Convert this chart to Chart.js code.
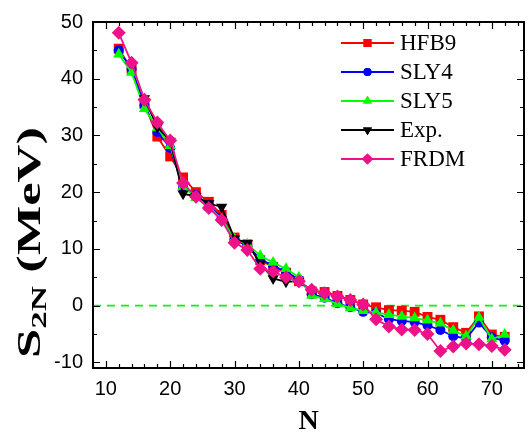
<!DOCTYPE html>
<html><head><meta charset="utf-8">
<script src="https://cdn.jsdelivr.net/npm/chart.js@4"></script>
<style>html,body{margin:0;padding:0;background:#fff;}canvas{display:block;}</style>
</head><body>
<canvas id="c" width="531" height="433"></canvas>
<script>
const neutronN = [12,14,16,18,20,22,24,26,28,30,32,34,36,38,40,42,44,46,48,50,52,54,56,58,60,62,64,66,68,70,72];
const hfb9 = [45.3,41.7,35.6,29.8,26.3,22.6,20.0,18.3,16.0,12.0,10.8,8.0,6.8,5.8,4.3,2.5,2.4,1.7,1.0,0.2,-0.3,-0.8,-0.9,-1.1,-2.0,-2.5,-3.8,-4.8,-1.9,-5.1,-5.5];
const sly4 = [45.0,41.7,35.3,30.6,27.8,20.8,19.5,17.8,15.5,11.6,10.5,8.2,7.0,6.0,4.6,2.0,1.4,0.4,-0.3,-1.1,-1.3,-2.4,-2.7,-2.9,-3.5,-4.3,-5.4,-5.8,-3.0,-5.6,-6.2];
const sly5 = [44.3,41.1,34.7,31.3,28.2,21.0,19.0,17.3,15.3,11.8,10.8,8.8,7.6,6.5,5.0,1.8,1.2,0.3,-0.4,-0.9,-1.2,-1.6,-1.9,-2.2,-2.6,-3.1,-4.4,-5.4,-2.1,-5.9,-5.1];
const expData = [null,null,36.5,31.5,29.0,19.7,19.3,18.0,17.4,11.8,11.0,7.4,4.8,4.2,4.3,null,null,null,null,null,null,null,null,null,null,null,null,null,null,null,null];
const frdm = [48.1,42.8,36.3,32.3,29.1,21.6,19.2,17.2,15.1,11.1,9.8,6.5,6.0,5.0,4.3,2.8,2.2,1.6,1.0,0.2,-2.4,-3.7,-4.2,-4.3,-5.0,-8.0,-7.2,-6.7,-6.8,-7.1,-7.8];
const xTicks = [10,20,30,40,50,60,70];
const yTicks = [-10,0,10,20,30,40,50];
const xRange = [8,75];
const yRange = [-11,50];
const zeroLevel = 0;

const pts = arr => neutronN.map((n,i)=>({x:n,y:arr[i]}));

const series = [
  {label:'HFB9', data:hfb9, color:'#ff0000', style:'rect', r:7, rot:0, order:5},
  {label:'SLY4', data:sly4, color:'#0000ff', style:'circle', r:5, rot:0, order:4},
  {label:'SLY5', data:sly5, color:'#00ff00', style:'triangle', r:6.5, rot:0, order:3},
  {label:'Exp.', data:expData, color:'#000000', style:'triangle', r:6.5, rot:180, order:2},
  {label:'FRDM', data:frdm, color:'#ee1289', style:'rectRot', r:7, rot:0, order:1}
];

const datasets = series.map(s=>({
  label:s.label, data:pts(s.data), borderColor:s.color, backgroundColor:s.color,
  borderWidth:1.8, pointStyle:s.style, pointRadius:s.r, pointRotation:s.rot,
  pointBorderWidth:0, pointBackgroundColor:s.color, order:s.order, tension:0, spanGaps:false
}));
datasets.push({label:'zero', data:xRange.map(x=>({x:x,y:zeroLevel})), borderColor:'#11ee11',
  borderWidth:1.8, borderDash:[8,6], pointRadius:0, order:6});

const frame = {
  id:'frame',
  afterDatasetsDraw(chart){
    const {ctx, chartArea:a, scales:{x,y}} = chart;
    ctx.save();
    ctx.strokeStyle='#000'; ctx.lineWidth=1.2;
    ctx.beginPath();
    for(let v=xRange[0]; v<=xRange[1]; v+=2){
      const px=Math.round(x.getPixelForValue(v))+0.5;
      const L = (v%10===0)?7:4;
      ctx.moveTo(px,a.bottom); ctx.lineTo(px,a.bottom-L);
      ctx.moveTo(px,a.top); ctx.lineTo(px,a.top+L);
    }
    for(let v=-10; v<=yRange[1]; v+=5){
      const py=Math.round(y.getPixelForValue(v))+0.5;
      const L = (v%10===0)?7:4;
      ctx.moveTo(a.left,py); ctx.lineTo(a.left+L,py);
      ctx.moveTo(a.right,py); ctx.lineTo(a.right-L,py);
    }
    ctx.stroke();
    ctx.lineWidth=2;
    ctx.strokeRect(a.left,a.top,a.right-a.left,a.bottom-a.top);
    // legend
    const lx0=341, lx1=394, tx=400, y0=43, dy=29;
    series.forEach((s,i)=>{
      const yy=y0+i*dy;
      ctx.strokeStyle=s.color; ctx.lineWidth=1.8;
      ctx.beginPath(); ctx.moveTo(lx0,yy); ctx.lineTo(lx1,yy); ctx.stroke();
      ctx.fillStyle=s.color;
      Chart.helpers.drawPoint(ctx,{pointStyle:s.style,radius:s.r*0.8,rotation:s.rot,borderWidth:0},(lx0+lx1)/2,yy);
      ctx.fill();
      ctx.fillStyle='#000'; ctx.font='23px "Liberation Serif"'; ctx.textBaseline='middle'; ctx.textAlign='left';
      ctx.fillText(s.label,tx,yy+1);
    });
    // y title
    ctx.save();
    ctx.fillStyle='#000'; ctx.textBaseline='alphabetic'; ctx.textAlign='left';
    const big='bold 33px "Liberation Serif"', small='bold 22px "Liberation Serif"';
    ctx.font=big; const wS=ctx.measureText('S').width, wM=ctx.measureText(' (MeV)').width;
    ctx.font=small; const w2=ctx.measureText('2N').width;
    const total=wS+w2+wM, sx=231/total;
    ctx.translate(40,358); ctx.rotate(-Math.PI/2); ctx.scale(sx,1);
    ctx.font=big; ctx.fillText('S',0,0);
    ctx.font=small; ctx.fillText('2N',wS,6);
    ctx.font=big; ctx.fillText(' (MeV)',wS+w2,0);
    ctx.restore();
    // x title
    ctx.font='bold 28px "Liberation Serif"'; ctx.textAlign='center'; ctx.textBaseline='alphabetic'; ctx.fillStyle='#000';
    ctx.fillText('N',(a.left+a.right)/2,429);
    ctx.restore();
  }
};

new Chart(document.getElementById('c'),{
  type:'line',
  data:{datasets},
  options:{
    responsive:false, animation:false, devicePixelRatio:1,
    layout:{padding:{top:15,right:1,left:0,bottom:0}},
    plugins:{legend:{display:false},tooltip:{enabled:false}},
    scales:{
      x:{type:'linear',min:xRange[0],max:xRange[1],
        afterBuildTicks:s=>{s.ticks=xTicks.map(v=>({value:v}));},
        afterFit:s=>{s.height=65;},
        grid:{display:false,drawTicks:false},border:{display:false},
        ticks:{padding:9,color:'#000',font:{family:'"Liberation Sans"',size:20},maxRotation:0,autoSkip:false}},
      y:{type:'linear',min:yRange[0],max:yRange[1],
        afterBuildTicks:s=>{s.ticks=yTicks.map(v=>({value:v}));},
        afterFit:s=>{s.width=93;},
        grid:{display:false,drawTicks:false},border:{display:false},
        ticks:{padding:10,color:'#000',font:{family:'"Liberation Sans"',size:20},autoSkip:false}}
    }
  },
  plugins:[frame]
});
</script>
</body></html>
